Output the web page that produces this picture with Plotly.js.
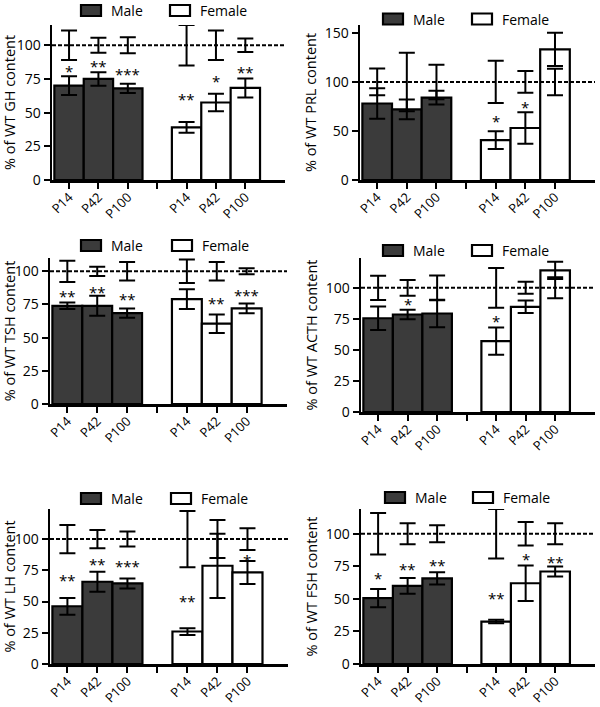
<!DOCTYPE html>
<html><head><meta charset="utf-8">
<script src="https://cdn.plot.ly/plotly-3.0.1.min.js"></script>
<style>html,body{margin:0;padding:0;background:#fff}#chart{width:600px;height:707px}</style>
</head><body><div id="chart"></div><script>
// ---- data ----
const groupNames = ['Male', 'Female'];
const tickLabels = ['P14','P42','P100','','P14','P42','P100'];
const tickSlots = [0,1,2,3,4,5,6];
const maleSlots = [0,1,2];
const femaleSlots = [4,5,6];
const wtSlots = [0,1,2,4,5,6];
const wtLevel = [100,100,100,100,100,100];
const hormones = ['GH','PRL','TSH','ACTH','LH','FSH'];

const ghMale = [70, 75, 68];          const ghMaleErr = [7, 5, 3.5];
const ghFemale = [39, 57.5, 68.3];    const ghFemaleErr = [4, 6.5, 7];
const ghWtErr = [11, 5.5, 6, 15, 11, 5];
const ghMaleStars = ['*','**','***']; const ghMaleStarAt = [83, 87, 81];
const ghFemaleStars = ['**','*','**']; const ghFemaleStarAt = [62.6, 75.7, 82];

const prlMale = [78, 72, 84];         const prlMaleErr = [15.6, 10, 7];
const prlFemale = [40.7, 53, 133.2];  const prlFemaleErr = [9, 16, 17];
const prlWtErr = [13.6, 29.8, 17.6, 21.5, 11, 13.5];
const prlMaleStars = ['','',''];      const prlMaleStarAt = [0, 0, 0];
const prlFemaleStars = ['*','*',''];  const prlFemaleStarAt = [63.7, 77.3, 0];

const tshMale = [74, 74, 68.5];       const tshMaleErr = [2.5, 7.5, 3.5];
const tshFemale = [79, 60.5, 72];     const tshFemaleErr = [7.5, 7, 3.7];
const tshWtErr = [8, 3.5, 7, 8.8, 7, 2.2];
const tshMaleStars = ['**','**','**']; const tshMaleStarAt = [83.6, 86.6, 81.6];
const tshFemaleStars = ['','**','***']; const tshFemaleStarAt = [0, 78, 84.3];

const acthMale = [75.5, 78.5, 79.3];  const acthMaleErr = [9.4, 3.8, 11];
const acthFemale = [57, 84.7, 114];   const acthFemaleErr = [11, 5, 7];
const acthWtErr = [9.8, 6.3, 10, 16, 4.8, 8.5];
const acthMaleStars = ['','*',''];    const acthMaleStarAt = [0, 89.2, 0];
const acthFemaleStars = ['*','',''];  const acthFemaleStarAt = [75.8, 0, 0];

const lhMale = [46.2, 65.8, 64.5];    const lhMaleErr = [6.7, 8, 4];
const lhFemale = [26, 78.6, 73.3];    const lhFemaleErr = [2.7, 25.7, 9.2];
const lhWtErr = [11.3, 7.3, 6, 22.5, 15.2, 8.7];
const lhMaleStars = ['**','**','***']; const lhMaleStarAt = [69.9, 82.4, 81];
const lhFemaleStars = ['**','','*'];  const lhFemaleStarAt = [52.5, 0, 85.9];

const fshMale = [50.5, 60, 65.8];     const fshMaleErr = [7, 6, 4.7];
const fshFemale = [32.6, 62, 71];     const fshFemaleErr = [1.3, 13.7, 3.8];
const fshWtErr = [16, 8, 6.5, 19, 9, 8];
const fshMaleStars = ['*','**','**']; const fshMaleStarAt = [68.5, 75.4, 78];
const fshFemaleStars = ['**','*','**']; const fshFemaleStarAt = [53, 82.6, 80.5];

const yTop = [115, 158, 110, 124, 124, 119];
const yTicks = [[0,25,50,75,100],[0,50,100,150],[0,25,50,75,100],[0,25,50,75,100],[0,25,50,75,100],[0,25,50,75,100]];

const panels = [
  [ghMale, ghMaleErr, ghFemale, ghFemaleErr, ghWtErr, ghMaleStars, ghMaleStarAt, ghFemaleStars, ghFemaleStarAt],
  [prlMale, prlMaleErr, prlFemale, prlFemaleErr, prlWtErr, prlMaleStars, prlMaleStarAt, prlFemaleStars, prlFemaleStarAt],
  [tshMale, tshMaleErr, tshFemale, tshFemaleErr, tshWtErr, tshMaleStars, tshMaleStarAt, tshFemaleStars, tshFemaleStarAt],
  [acthMale, acthMaleErr, acthFemale, acthFemaleErr, acthWtErr, acthMaleStars, acthMaleStarAt, acthFemaleStars, acthFemaleStarAt],
  [lhMale, lhMaleErr, lhFemale, lhFemaleErr, lhWtErr, lhMaleStars, lhMaleStarAt, lhFemaleStars, lhFemaleStarAt],
  [fshMale, fshMaleErr, fshFemale, fshFemaleErr, fshWtErr, fshMaleStars, fshMaleStarAt, fshFemaleStars, fshFemaleStarAt]
];

// ---- layout geometry (page pixels) ----
const W = 600, H = 707;
const boxes = [ // left, right, top, bottom
  [52, 285, 25, 180], [360, 595, 25, 180],
  [50, 287, 258, 404], [361, 595, 258, 412],
  [50, 288, 509, 664], [361, 595, 509, 664]
];
// legend key boxes: [maleLeft, femaleLeft, centreY]
const keyPos = [[81, 170, 10.5], [383, 472, 19], [81, 172, 245.5], [383, 472, 250.5], [81, 171, 498.5], [385, 473, 497.5]];
const KEY_W = 20, KEY_H = 11, KEY_GAP = 8;

const FONT = 'Open Sans, Noto Sans, sans-serif';
const MALE_FILL = '#3b3b3b';
const traces = [];
const layout = {
  width: W, height: H, margin: {l:0, r:0, t:0, b:0},
  paper_bgcolor: '#fff', plot_bgcolor: 'rgba(0,0,0,0)',
  font: {family: FONT, color: '#000', size: 13},
  showlegend: false, bargap: 0, barmode: 'overlay',
  shapes: [], annotations: []
};
const px = v => v / W, py = v => 1 - v / H;

panels.forEach((p, i) => {
  const n = i + 1;
  const xa = 'x' + (n === 1 ? '' : n), ya = 'y' + (n === 1 ? '' : n);
  const [mv, me, fv, fe, we, ms, msAt, fs, fsAt] = p;
  const errStyle = {type: 'data', color: '#000', thickness: 2, width: 8};
  traces.push({
    type: 'bar', x: maleSlots, y: mv, width: 1, name: groupNames[0],
    xaxis: xa, yaxis: ya,
    marker: {color: MALE_FILL, line: {color: '#000', width: 2.2}},
    error_y: Object.assign({array: me}, errStyle), hoverinfo: 'y'
  });
  traces.push({
    type: 'bar', x: femaleSlots, y: fv, width: 1, name: groupNames[1],
    xaxis: xa, yaxis: ya,
    marker: {color: '#fff', line: {color: '#000', width: 2.2}},
    error_y: Object.assign({array: fe}, errStyle), hoverinfo: 'y'
  });
  traces.push({
    type: 'scatter', mode: 'markers', x: wtSlots, y: wtLevel, name: 'WT',
    xaxis: xa, yaxis: ya, marker: {size: 1, opacity: 0},
    error_y: Object.assign({array: we}, errStyle), hoverinfo: 'y'
  });
  const b = boxes[i];
  const axX = 'xaxis' + (n === 1 ? '' : n), axY = 'yaxis' + (n === 1 ? '' : n);
  layout[axX] = {
    domain: [px(b[0]), px(b[1])], anchor: ya, range: [-0.58, 7.35],
    tickvals: tickSlots, ticktext: tickLabels, tickangle: -45,
    ticks: 'outside', ticklen: 6, tickwidth: 2, tickcolor: '#000', ticklabelstandoff: -4,
    showline: true, linewidth: 2.5, linecolor: '#000', showgrid: false, zeroline: false,
    tickfont: {size: 13, family: FONT}, fixedrange: true, automargin: false
  };
  layout[axY] = {
    domain: [py(b[3]), py(b[2])], anchor: xa, range: [0, yTop[i]],
    tickvals: yTicks[i], ticks: 'outside', ticklen: 6, tickwidth: 2, tickcolor: '#000',
    showline: true, linewidth: 2.5, linecolor: '#000', showgrid: false, zeroline: false,
    tickfont: {size: 14, family: FONT}, fixedrange: true, automargin: false,
    title: {text: '% of WT ' + hormones[i] + ' content', font: {size: 14.5, family: FONT}, standoff: 5}
  };
  layout.shapes.push({
    type: 'line', xref: xa + ' domain', yref: ya, x0: 0, x1: 1, y0: 100, y1: 100,
    line: {color: '#000', width: 2, dash: '4px,2px'}, layer: 'above'
  });
  const addStars = (slots, stars, at) => slots.forEach((s, k) => {
    if (!stars[k]) return;
    layout.annotations.push({
      x: s, y: at[k], xref: xa, yref: ya, text: stars[k], showarrow: false,
      yanchor: 'middle', yshift: -3, font: {size: 15, family: FONT, color: '#000'}
    });
  });
  addStars(maleSlots, ms, msAt);
  addStars(femaleSlots, fs, fsAt);
  // legend keys
  const k = keyPos[i];
  [[k[0], MALE_FILL, groupNames[0]], [k[1], '#fff', groupNames[1]]].forEach(([left, fill, label]) => {
    layout.shapes.push({
      type: 'rect', xref: 'paper', yref: 'paper',
      x0: px(left), x1: px(left + KEY_W), y0: py(k[2] + KEY_H / 2), y1: py(k[2] - KEY_H / 2),
      fillcolor: fill, line: {color: '#000', width: 2.2}
    });
    layout.annotations.push({
      xref: 'paper', yref: 'paper', x: px(left + KEY_W + KEY_GAP), y: py(k[2]),
      xanchor: 'left', yanchor: 'middle', text: label, showarrow: false,
      font: {size: 14, family: FONT, color: '#000'}
    });
  });
});

Plotly.newPlot('chart', traces, layout, {displayModeBar: false, staticPlot: true});
</script></body></html>
